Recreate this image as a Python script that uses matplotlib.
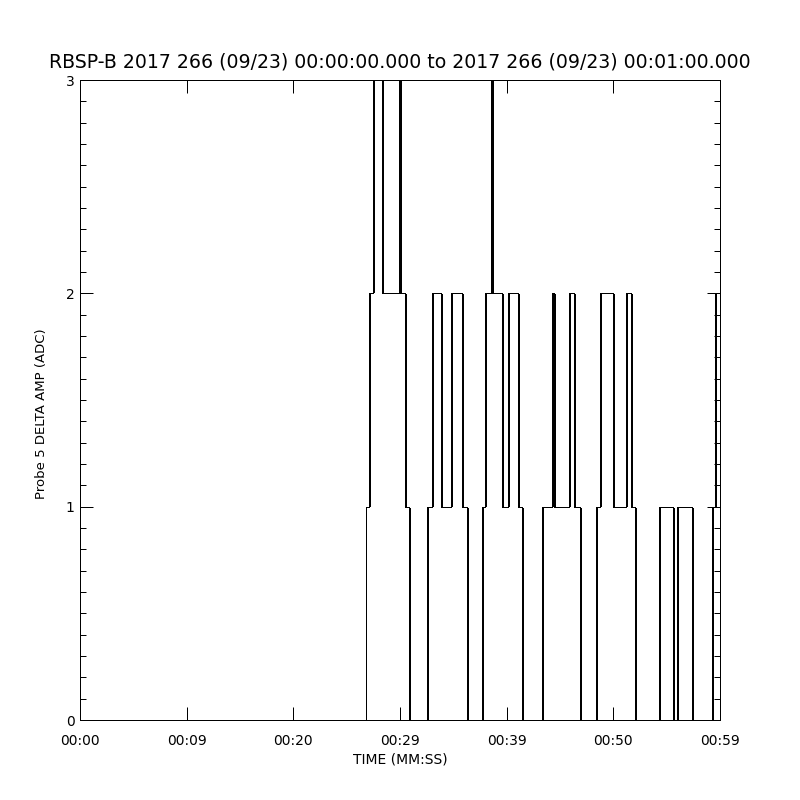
import numpy as np
import matplotlib
matplotlib.use("Agg")
import matplotlib.pyplot as plt
from matplotlib.ticker import MultipleLocator

# level changes of the probe signal (seconds from start, level after the change)
change_t = [26.32, 26.65, 27.01, 27.82, 29.42, 29.53, 29.94, 30.29,
            31.95, 32.41, 33.29, 34.19, 35.19, 35.65,
            37.03, 37.36, 37.91, 38.00, 38.87, 39.45, 40.42, 40.74,
            42.57, 43.49, 43.68, 45.07, 45.53, 46.08,
            47.58, 47.97, 49.17, 50.35, 50.84, 51.21,
            53.37, 54.70, 55.01, 56.41, 58.27, 58.58]
change_level = [1, 2, 3, 2, 3, 2, 1, 0,
                1, 2, 1, 2, 1, 0,
                1, 2, 3, 2, 1, 2, 1, 0,
                1, 2, 1, 2, 1, 0,
                1, 2, 1, 2, 1, 0,
                1, 0, 1, 0, 1, 2]
t_start, t_end = 0.0, 59.0
start_level = 0
sample_dt = 0.09  # one sample, each change is drawn over it

tick_labels = ["00:00", "00:09", "00:20", "00:29", "00:39", "00:50", "00:59"]

title = "RBSP-B 2017 266 (09/23) 00:00:00.000 to 2017 266 (09/23) 00:01:00.000"

# build the polyline
xs = [t_start]
ys = [start_level]
prev = start_level
for t, lv in zip(change_t, change_level):
    xs += [t, t + sample_dt]
    ys += [prev, lv]
    prev = lv
xs.append(t_end)
ys.append(prev)

plt.rcParams['font.family'] = ['DejaVu Sans']

fig = plt.figure(figsize=(8, 8), dpi=100)
ax = fig.add_axes([0.1, 0.1, 0.8, 0.8])

ax.plot(xs, ys, color="black", lw=0.72, antialiased=False, snap=True,
        clip_on=False, zorder=1)

ax.set_xlim(t_start, t_end)
ax.set_ylim(0, 3)

ax.set_xticks(np.linspace(t_start, t_end, len(tick_labels)))
ax.set_xticklabels(tick_labels)
ax.set_yticks([0, 1, 2, 3])
ax.set_yticklabels(["0", "1", "2", "3"])
ax.yaxis.set_minor_locator(MultipleLocator(0.1))

ax.tick_params(axis="both", which="major", direction="in", length=9.4, width=0.72,
               top=True, right=True, labelsize=10, color="black")
ax.tick_params(axis="y", which="minor", direction="in", length=4.5, width=0.72,
               left=True, right=True)
ax.tick_params(axis="x", which="major", pad=10)
ax.tick_params(axis="y", which="major", pad=4)

for sp in ax.spines.values():
    sp.set_linewidth(0.72)
    sp.set_zorder(3)

ax.set_xlabel("TIME (MM:SS)", fontsize=10, labelpad=3)
ax.set_ylabel("Probe 5 DELTA AMP (ADC)", fontsize=9.5)
ax.yaxis.set_label_coords(-0.05, 0.478)
ax.set_title(title, fontsize=13.6, pad=9)

fig.savefig("out.png", dpi=100, facecolor="white")
